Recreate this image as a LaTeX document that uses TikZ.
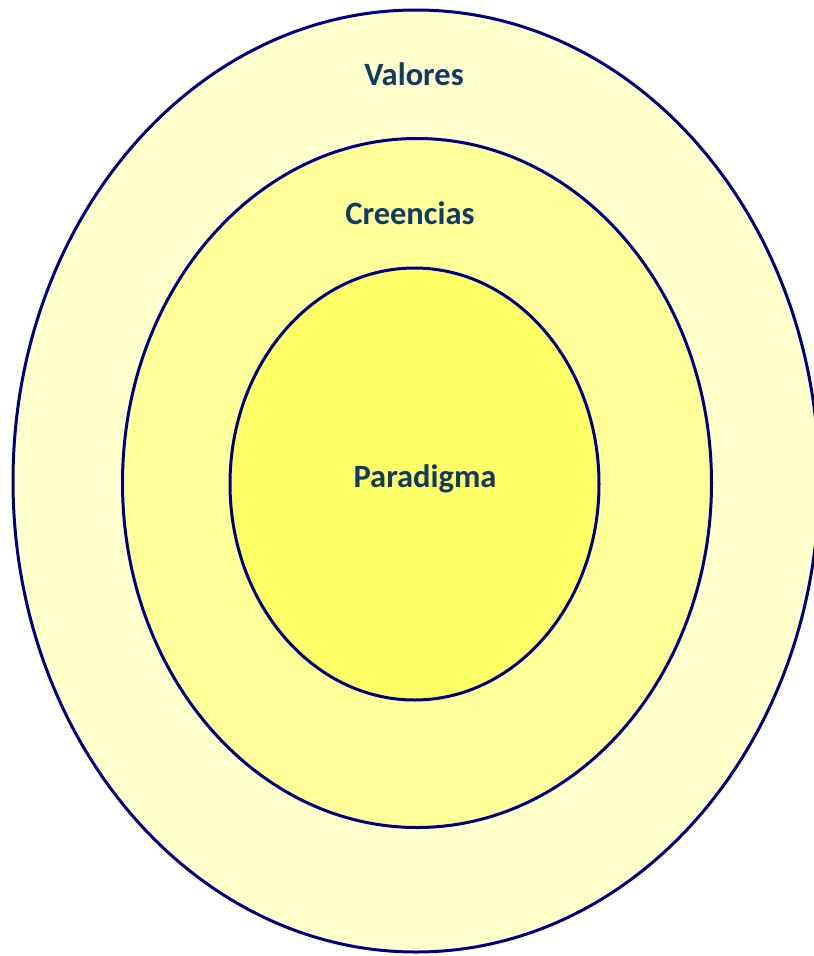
\documentclass[tikz,border=0pt]{standalone}
\usepackage{fontspec}
\setmainfont{Carlito}
\definecolor{ringline}{HTML}{000080}
\definecolor{labeltext}{HTML}{133A66}
\definecolor{outerfill}{HTML}{FFFFCC}
\definecolor{midfill}{HTML}{FFFF99}
\definecolor{innerfill}{HTML}{FFFF66}
\begin{document}
\begin{tikzpicture}[x=1pt,y=-1pt,
  ring/.style={draw=ringline,line width=3pt},
  lbl/.style={text=labeltext,font=\fontsize{32.5}{38}\selectfont\bfseries,inner sep=0pt}]
\useasboundingbox (0,0) rectangle (814,956);
\fill[white] (0,0) rectangle (814,956);
\draw[ring,fill=outerfill] (416,481) ellipse [x radius=403,y radius=471];
\draw[ring,fill=midfill] (417,483) ellipse [x radius=294.5,y radius=344.5];
\draw[ring,fill=innerfill] (414.5,484) ellipse [x radius=184.5,y radius=216];
\node[lbl] (valores) at (414,74) {Valores};
\node[lbl] (creencias) at (410,213) {Creencias};
\node[lbl] (paradigma) at (425,479) {Paradigma};
\end{tikzpicture}
\end{document}
